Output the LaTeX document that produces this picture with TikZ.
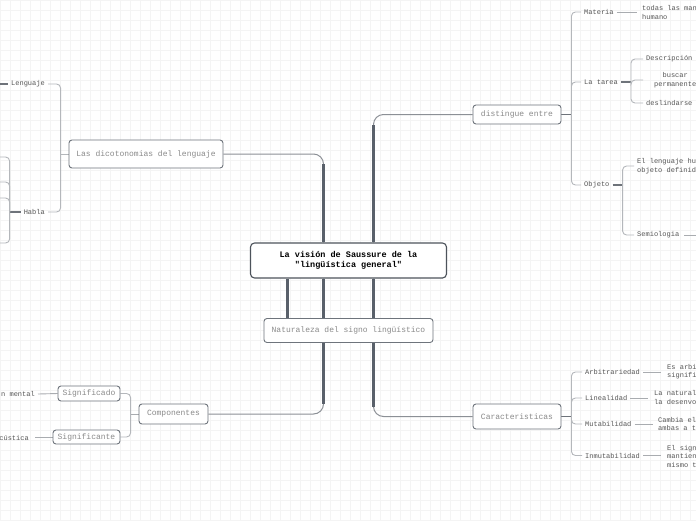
\documentclass[tikz,border=0pt]{standalone}
\usepackage{fontspec}
\setmainfont{Liberation Mono}[Ligatures=TeXOff]
\usetikzlibrary{calc, positioning}

\definecolor{gridc}{HTML}{F4F4F4}
\definecolor{corec}{HTML}{4D535B}
\definecolor{trunkc}{HTML}{59606A}
\definecolor{limbc}{HTML}{8C9096}
\definecolor{boxc}{HTML}{6E747C}
\definecolor{boxtext}{HTML}{8A8A8A}
\definecolor{leaftext}{HTML}{555555}
\definecolor{twigc}{HTML}{B4B7BB}
\definecolor{stemc}{HTML}{6E737A}
\definecolor{linkc}{HTML}{A9ACB0}

\pgfdeclarelayer{grid}
\pgfdeclarelayer{lines}
\pgfsetlayers{grid,lines,main}

\begin{document}
\begin{tikzpicture}[
    x=1pt, y=-1pt,
    core/.style={draw=corec, line width=1.1pt, rounded corners=4pt, fill=white, text=black,
        font=\fontsize{8.5}{10}\selectfont\bfseries, align=center,
        minimum width=196pt, minimum height=35pt, inner sep=0pt},
    topic/.style={draw=boxc, line width=0.9pt, rounded corners=3pt, fill=white, text=boxtext,
        font=\fontsize{8}{9}\selectfont, inner sep=0pt},
    leaf/.style={text=leaftext, font=\fontsize{7}{8.5}\selectfont, inner xsep=3pt, inner ysep=1pt, align=left},
    trunk/.style={draw=trunkc, line width=2.6pt},
    limb/.style={draw=limbc, line width=1pt, rounded corners=10pt},
    twig/.style={draw=twigc, line width=0.9pt, rounded corners=4pt},
    stem/.style={draw=stemc, line width=1.5pt},
    link/.style={draw=linkc, line width=0.9pt}
]

    % hoja y cuadricula
    \useasboundingbox (0,0) rectangle (696,520);
    \clip (0,0) rectangle (696,520);
    \begin{pgfonlayer}{grid}
        \fill[white] (0,0) rectangle (696,520);
        \draw[gridc, line width=0.5pt] (0,0) grid[step=10pt] (696,520);
    \end{pgfonlayer}

    % 1. Nodo central y temas
    \node[core] (main) at (348.5,260.5) {La visión de Saussure de la\\"lingüística general"};
    \node[topic, minimum width=169pt, minimum height=24pt] (natur) at (348.5,330.5) {Naturaleza del signo lingüístico};
    \node[topic, minimum width=154pt, minimum height=28pt] (dico) at (146,154) {Las dicotonomias del lenguaje};
    \node[topic, minimum width=88pt, minimum height=19pt] (dist) at (517,114.5) {distingue entre};
    \node[topic, minimum width=88pt, minimum height=25pt] (carac) at (517,416.5) {Caracteristicas};
    \node[topic, minimum width=69pt, minimum height=20pt] (compo) at (173.5,414) {Componentes};
    \node[topic, minimum width=62pt, minimum height=15pt] (sdo) at (89,393.5) {Significado};
    \node[topic, minimum width=67pt, minimum height=14pt] (ste) at (86.5,437) {Significante};

    % 2. Hojas (derecha)
    \node[leaf, anchor=west] (mat) at (581,12) {Materia};
    \node[leaf, anchor=west] (matd) at (639,12.5) {todas las man\\humano};
    \node[leaf, anchor=west] (lt) at (581,82) {La tarea};
    \node[leaf, anchor=west] (ltd1) at (643,59) {Descripción};
    \node[leaf, anchor=west, text width=58pt, align=center] (ltd2) at (643,80) {buscar\\permanente};
    \node[leaf, anchor=west] (ltd3) at (643,103) {deslindarse};
    \node[leaf, anchor=west] (obj) at (581,185) {Objeto};
    \node[leaf, anchor=west] (objd1) at (634,166) {El lenguaje hu\\objeto definid};
    \node[leaf, anchor=west] (objd2) at (634,235) {Semiologia};

    \node[leaf, anchor=west] (arb) at (582,372) {Arbitrariedad};
    \node[leaf, anchor=west] (arbd) at (664,371.5) {Es arbi\\signifi};
    \node[leaf, anchor=west] (lin) at (582,398) {Linealidad};
    \node[leaf, anchor=west] (lind) at (651,397.5) {La natural\\la desenvo};
    \node[leaf, anchor=west] (mut) at (582,424) {Mutabilidad};
    \node[leaf, anchor=west] (mutd) at (655,424) {Cambia el\\ambas a t};
    \node[leaf, anchor=west] (inm) at (582,455.5) {Inmutabilidad};
    \node[leaf, anchor=west] (inmd) at (664,456) {El sign\\mantien\\mismo t};

    % 3. Hojas (izquierda)
    \node[leaf, anchor=east] (leng) at (48,84) {Lenguaje};
    \node[leaf, anchor=east] (habla) at (48,212) {Habla};
    \node[leaf, anchor=east] (sdoL) at (38,394) {n mental};
    \node[leaf, anchor=east] (steL) at (32,438) {cústica};

    % puntos fuera de la hoja
    \coordinate (lgc) at (-12,84);
    \coordinate (hb1) at (-12,157);
    \coordinate (hb2) at (-12,182);
    \coordinate (hb3) at (-12,198);
    \coordinate (hb4) at (-12,243);
    \coordinate (semc) at (710,235);

    \begin{pgfonlayer}{lines}
        % 4. Troncos desde el nodo central
        \coordinate (kL) at ($(main.north)+(-25,0)$);
        \coordinate (kR) at ($(main.north)+(25,0)$);
        \coordinate (kN) at ($(main.south)+(-61,0)$);
        \coordinate (kC) at ($(main.south)+(-25,0)$);
        \coordinate (kK) at ($(main.south)+(25,0)$);

        \draw[limb] (kL) |- (dico.east);
        \draw[trunk] (kL) -- ($(kL |- dico.east)+(0,10)$);
        \draw[limb] (kR) |- (dist.west);
        \draw[trunk] (kR) -- ($(kR |- dist.west)+(0,10)$);
        \draw[trunk] (kN) -- (kN |- natur.north);
        \draw[limb] (kC) |- (compo.east);
        \draw[trunk] (kC) -- ($(kC |- compo.east)+(0,-10)$);
        \draw[limb] (kK) |- (carac.west);
        \draw[trunk] (kK) -- ($(kK |- carac.west)+(0,-10)$);

        % 5. Llaves
        \coordinate (dk) at ($(dist.east)+(10,0)$);
        \draw[stem] (dist.east) -- (dk);
        \foreach \c in {mat, lt, obj}
            \draw[twig] (dk) |- (\c.west);

        \coordinate (ltk) at ($(lt.east)+(10,0)$);
        \draw[stem] (lt.east) -- (ltk);
        \foreach \c in {ltd1, ltd2, ltd3}
            \draw[twig] (ltk) |- (\c.west);

        \coordinate (objk) at ($(obj.east)+(10,0)$);
        \draw[stem] (obj.east) -- (objk);
        \foreach \c in {objd1, objd2}
            \draw[twig] (objk) |- (\c.west);

        \coordinate (ck) at ($(carac.east)+(10,0)$);
        \draw[stem] (carac.east) -- (ck);
        \foreach \c in {arb, lin, mut, inm}
            \draw[twig] (ck) |- (\c.west);

        \coordinate (dck) at ($(dico.west)+(-8,0)$);
        \draw[twig] (dico.west) -- (dck);
        \foreach \c in {leng, habla}
            \draw[twig] (dck) |- (\c.east);

        \coordinate (hk) at ($(habla.west)+(-11,0)$);
        \draw[stem] (habla.west) -- (hk);
        \foreach \c in {hb1, hb2, hb3, hb4}
            \draw[twig] (hk) |- (\c);
        \draw[stem] (leng.west) -- (lgc);

        \coordinate (cpk) at ($(compo.west)+(-8,0)$);
        \draw[twig, draw=linkc] (compo.west) -- (cpk);
        \foreach \c in {sdo, ste}
            \draw[twig] (cpk) |- (\c.east);

        % 6. Enlaces simples
        \draw[link, shorten >=2pt] (mat.east) -- (mat.east -| matd.west);
        \draw[link, shorten >=3pt] (arb.east) -- (arb.east -| arbd.west);
        \draw[link, shorten >=3pt] (lin.east) -- (lin.east -| lind.west);
        \draw[link, shorten >=2pt] (mut.east) -- (mut.east -| mutd.west);
        \draw[link, shorten >=3pt] (inm.east) -- (inm.east -| inmd.west);
        \draw[link, shorten <=2pt] (objd2.east) -- (semc);
        \draw[link] (sdo.west) -- (sdoL.east);
        \draw[link, shorten >=3pt] (ste.west) -- (ste.west -| steL.east);
    \end{pgfonlayer}

\end{tikzpicture}
\end{document}
